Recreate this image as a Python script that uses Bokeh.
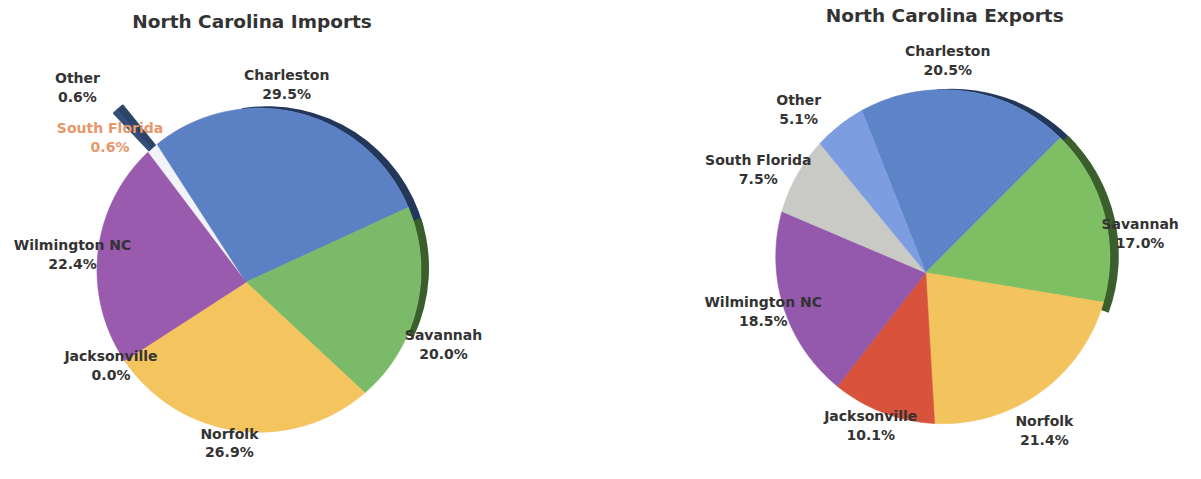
import math
from bokeh.plotting import figure
from bokeh.core.properties import value
from bokeh.embed import file_html
from bokeh.resources import INLINE

# ---------------- data ----------------
ports = ["Charleston", "Savannah", "Norfolk", "Jacksonville", "Wilmington NC", "South Florida", "Other"]
imports_pct = [29.5, 20.0, 26.9, 0.0, 22.4, 0.6, 0.6]
exports_pct = [20.5, 17.0, 21.4, 10.1, 18.5, 7.5, 5.1]
titles = ["North Carolina Imports", "North Carolina Exports"]

import_colors = ["#5b80c3", "#7aba68", "#f4c45e", "#d9533c", "#9a5aae", "#34507a", "#2b4468"]
export_colors = ["#5d83c9", "#7dbf62", "#f3c35d", "#d9523b", "#9459ad", "#c9c9c6", "#7c9ddf"]

# ---------------- layout ----------------
W, H = 1185, 463
SX = W / 1201.0
SY = H / 479.0
def X(xi):
    return xi * SX
def Y(yi):
    return H - yi * SY

FONT = value("DejaVu Sans")

p = figure(width=W, height=H, x_range=(0, W), y_range=(0, H),
           output_backend="svg", toolbar_location=None, min_border=0)
p.axis.visible = False
p.grid.visible = False
p.outline_line_color = None
p.background_fill_color = "white"
p.border_fill_color = "white"


def slice_poly(cx, cy, r, s, span, apex, ox=0.0, oy=0.0):
    n = max(3, int(math.degrees(span) / 1.5) + 2)
    xs = [cx + apex[0] + ox]
    ys = [cy + apex[1] + oy]
    for k in range(n + 1):
        t = s - span * k / n
        xs.append(cx + ox + r * math.cos(t))
        ys.append(cy + oy + r * math.sin(t))
    return xs, ys


def draw_pie(values, colors, cx, cy, r, start_deg, apex, explode=None, explode_dist=0, rim=None):
    """Pie drawn as patches: arc points on a circle, slice tip at a shifted
    apex to mimic the tilted 3D look of the original."""
    total = sum(values)
    explode = explode or []
    # angles
    s = math.radians(start_deg)
    angs = []
    for v in values:
        span = 2 * math.pi * v / total
        angs.append((s, span))
        s -= span
    # shared explode direction for the exploded group
    if explode:
        mids = [angs[i][0] - angs[i][1] / 2 for i in explode]
        gmid = sum(mids) / len(mids)
        gox, goy = explode_dist * math.cos(gmid), explode_dist * math.sin(gmid)
    main_x, main_y, main_c = [], [], []
    ex_x, ex_y, ex_c = [], [], []
    for i, v in enumerate(values):
        if v <= 0:
            continue
        s, span = angs[i]
        if i in explode:
            xs, ys = slice_poly(cx, cy, r, s, span, (0, 0), gox, goy)
            ex_x.append(xs); ex_y.append(ys); ex_c.append(colors[i])
        else:
            xs, ys = slice_poly(cx, cy, r, s, span, apex)
            main_x.append(xs); main_y.append(ys); main_c.append(colors[i])
    if ex_x:
        p.patches(xs=ex_x, ys=ex_y, fill_color=ex_c, line_color=ex_c, line_width=1.5)
    if rim:
        for (a0, a1, col, dx, dy) in rim:
            p.wedge(x=[cx + dx], y=[cy + dy], radius=r,
                    start_angle=math.radians(a0), end_angle=math.radians(a1),
                    fill_color=col, line_color=None)
    # light base disk (shows through the gap left by exploded slices)
    p.circle(x=[cx], y=[cy], radius=r, fill_color="#f1f3f8", line_color=None)
    p.patches(xs=main_x, ys=main_y, fill_color=main_c, line_color=main_c, line_width=0.6)


# Imports pie
draw_pie(imports_pct, import_colors, X(262), Y(279), 162, 129.0, apex=(-13, -12),
         explode=[5, 6], explode_dist=52,
         rim=[(15, 99, "#22375a", 8, 2), (-25, 18, "#3b5f2c", 8, 2)])

# Exports pie
draw_pie(exports_pct, export_colors, X(955), Y(265), 167, 119.0, apex=(-17, -16),
         rim=[(42, 95, "#22375a", 9, 1), (-20, 46, "#3b5f2c", 9, 1)])

# titles
p.text(x=[X(255), X(957)], y=[Y(22), Y(16)], text=titles,
       text_font=FONT, text_font_style="bold", text_font_size="18.5px",
       text_color="#333333", text_align="center", text_baseline="middle")

# slice labels: name line centre positions (reference pixels)
imp_label_pos = [(290, 77), (449, 346), (232, 448), (112, 368), (73, 253), (111, 132), (78, 80)]
exp_label_pos = [(960, 52), (1155, 231), (1058, 435), (882, 430), (773, 312), (768, 165), (809, 103)]
imp_label_colors = ["#333333"] * 5 + ["#e8966a", "#333333"]
exp_label_colors = ["#333333"] * 7


def draw_labels(values, pos, tcolors):
    xs = [X(px) for px, py in pos]
    y1 = [Y(py) for px, py in pos]
    y2 = [Y(py + 19.5) for px, py in pos]
    pct = ["%.1f%%" % v for v in values]
    p.text(x=xs, y=y1, text=ports, text_font=FONT, text_font_style="bold",
           text_font_size="14px", text_color=tcolors,
           text_align="center", text_baseline="middle")
    p.text(x=xs, y=y2, text=pct, text_font=FONT, text_font_style="bold",
           text_font_size="14px", text_color=tcolors,
           text_align="center", text_baseline="middle")


draw_labels(imports_pct, imp_label_pos, imp_label_colors)
draw_labels(exports_pct, exp_label_pos, exp_label_colors)

open("out.html", "w").write(file_html(p, INLINE))
